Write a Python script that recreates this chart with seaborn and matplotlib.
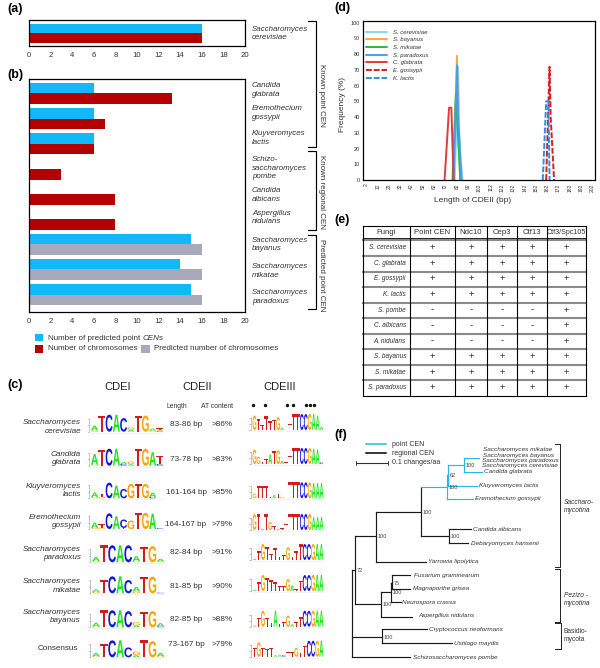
import numpy as np
import pandas as pd
import matplotlib
matplotlib.use("Agg")
import matplotlib.pyplot as plt
import seaborn as sns
from matplotlib.patches import PathPatch, Rectangle
from matplotlib.textpath import TextPath
from matplotlib.font_manager import FontProperties
from matplotlib.transforms import Affine2D

# ---------- data: panels (a) and (b) ----------
species_a = ["Saccharomyces\ncerevisiae"]
predicted_a = [16]
chromosomes_a = [16]

species_b = ["Candida\nglabrata", "Eremothecium\ngossypii", "Kluyveromyces\nlactis",
             "Schizo-\nsaccharomyces\npombe", "Candida\nalbicans", "Aspergillus\nnidulans",
             "Saccharomyces\nbayanus", "Saccharomyces\nmikatae", "Saccharomyces\nparadoxus"]
predicted_cen = [6, 6, 6, 0, 0, 0, 15, 14, 15]
chromosomes = [13.2, 7, 6, 3, 8, 8, 16, 16, 16]
second_is_predicted = [0, 0, 0, 0, 0, 0, 1, 1, 1]
bar_ticks = list(range(0, 21, 2))

# ---------- data: panel (d) ----------
d_series = {
    "S. cerevisiae": ([80, 83, 84, 85, 87], [0, 72, 30, 15, 0]),
    "S. bayanus": ([79, 82, 83, 85], [0, 79, 30, 0]),
    "S. mikatae": ([78, 81, 82, 85], [0, 55, 40, 0]),
    "S. paradoxus": ([79, 82, 83, 86], [0, 73, 40, 0]),
    "C. glabrata": ([71, 75, 77, 79], [0, 46, 46, 0]),
    "E. gossypii": ([161, 164, 165, 168], [0, 72, 40, 0]),
    "K. lactis": ([158, 161, 163, 164], [0, 50, 50, 0]),
}
d_colors = ["#86D8F2", "#F7A93B", "#2DB83D", "#4C9CEE", "#E23B3B", "#E01B1B", "#2E8FEA"]
d_dashed = [False, False, False, False, False, True, True]
d_xticks = list(range(2, 203, 10))
d_yticks = list(range(0, 101, 10))

# ---------- data: panel (c) ----------
c_species = ["Saccharomyces\ncerevisiae", "Candida\nglabrata", "Kluyveromyces\nlactis",
             "Eremothecium\ngossypii", "Saccharomyces\nparadoxus", "Saccharomyces\nmikatae",
             "Saccharomyces\nbayanus", "Consensus"]
c_length = ["83-86 bp", "73-78 bp", "161-164 bp", "164-167 bp", "82-84 bp", "81-85 bp", "82-85 bp", "73-167 bp"]
c_at = [">86%", ">83%", ">85%", ">79%", ">91%", ">90%", ">88%", ">79%"]

cdei_letters = [
    ["GA", "T", "C", "A", "C", "AG", "T", "G", "GA", "CAT"],
    ["GA", "T", "C", "A", "CA", "AG", "T", "G", "A", "CT"],
    ["GA", "GT", "C", "A", "C", "G", "T", "G", "CA", ""],
    ["GA", "GT", "C", "A", "TC", "G", "T", "G", "A", "C"],
    ["GA", "T", "C", "A", "C", "GA", "T", "G", "GA"],
    ["GA", "T", "C", "A", "C", "GA", "T", "G", "C"],
    ["GA", "T", "C", "A", "C", "AG", "T", "G", "CA"],
    ["GA", "T", "C", "A", "C", "AG", "T", "G", "GA"],
]
cdei_heights = [
    [[.08, .28], [.95], [1], [1], [.8], [.12, .15], [.95], [.95], [.06, .12], [.04, .06, .1]],
    [[.06, .62], [.95], [1], [1], [.1, .12], [.1, .15], [1], [1], [.8], [.1, .5]],
    [[.06, .28], [.08, .2], [.92], [.75], [.55], [.85], [.85], [.85], [.08, .25], []],
    [[.06, .32], [.08, .2], [.92], [.75], [.06, .5], [.5], [.95], [.95], [.9], [.05]],
    [[.06, .25], [1], [1], [1], [1], [.06, .3], [.9], [.95], [.05, .15]],
    [[.08, .15], [.8], [1], [1], [.78], [.12, .25], [.98], [.98], [.04]],
    [[.04, .22], [1], [1], [1], [.95], [.1, .2], [.92], [.95], [.06, .18]],
    [[.05, .2], [.8], [1], [1], [.58], [.12, .22], [1], [.95], [.05, .2]],
]

cdeiii_letters = [
    ["G", "T", "T", "T", "T", "T", "G", "A", "T", "T", "T", "T", "C", "C", "G", "A", "A", "A"],
    ["G", "G", "T", "T", "A", "T", "G", "A", "T", "T", "T", "T", "C", "C", "G", "A", "A", "C"],
    ["G", "T", "T", "T", "T", "A", "T", "G", "T", "T", "T", "T", "C", "C", "G", "A", "A", "A"],
    ["G", "T", "A", "T", "G", "T", "A", "T", "T", "T", "T", "T", "C", "C", "G", "A", "A", "A"],
    ["A", "T", "G", "T", "T", "T", "T", "T", "G", "T", "T", "T", "C", "C", "G", "A", "A"],
    ["A", "T", "G", "T", "T", "T", "T", "T", "G", "A", "T", "T", "C", "C", "G", "A", "A"],
    ["A", "T", "G", "T", "T", "A", "T", "T", "G", "A", "T", "T", "C", "C", "G", "A", "A"],
    ["T", "G", "T", "T", "T", "A", "A", "C", "T", "T", "G", "T", "T", "C", "C", "G", "A"],
]
cdeiii_heights = [
    [.9, .7, .3, .85, .55, .65, .8, .15, .2, .4, 1, 1, 1, 1, 1, 1, .9, .2],
    [.9, .45, .12, .3, .6, .8, .85, .2, .1, .5, 1, 1, 1, 1, 1, .95, .9, .1],
    [.3, .75, .75, .75, .1, .2, .3, .08, .08, 1, 1, 1, 1, 1, 1, .95, .95, .95],
    [1, 1, .08, 1, .5, .25, .08, .1, .35, 1, 1, 1, 1, 1, 1, .8, .8, .8],
    [.08, .55, 1, .8, .35, .75, .2, .3, .8, .2, .55, 1, 1, 1, 1, 1, 1],
    [.08, .55, 1, .8, .7, .55, .3, .3, .75, .35, .1, .65, 1, 1, 1, 1, 1],
    [.08, .55, 1, .55, .25, 1, .2, .3, .7, .15, .3, .6, 1, 1, 1, 1, 1],
    [.55, .9, .55, .5, .55, .1, .12, .1, .3, .3, .55, .25, .7, 1, 1, 1, 1],
]
logo_colors = {"A": "#19E619", "C": "#1515E0", "G": "#F7A600", "T": "#D41C1C"}

# ---------- data: panel (e) ----------
e_header = ["Fungi", "Point CEN", "Ndc10", "Cep3", "Ctf13", "Ctf3/Spc105"]
e_fungi = ["S. cerevisiae", "C. glabrata", "E. gossypii", "K. lactis", "S. pombe",
           "C. albicans", "A. nidulans", "S. bayanus", "S. mikatae", "S. paradoxus"]
e_point_cen = ["+", "+", "+", "+", "-", "-", "-", "+", "+", "+"]
e_ndc10 = ["+", "+", "+", "+", "-", "-", "-", "+", "+", "+"]
e_cep3 = ["+", "+", "+", "+", "-", "-", "-", "+", "+", "+"]
e_ctf13 = ["+", "+", "+", "+", "-", "-", "-", "+", "+", "+"]
e_ctf3 = ["+"] * 10

# ---------- data: panel (f), nested (branch length in changes/aa, support, row, children) ----------
tree = (0, "", None, [
    (.010, "72", 510, [
        (.065, "100", 408, [
            (.142, "100", 335, [
                (.080, "100", 260, [
                    (.004, "62", 224, [
                        (.049, "100", 195, [
                            (.049, "", 175, []),
                            (.056, "", 215, []),
                        ]),
                        (.090, "", 257, []),
                    ]),
                    (.081, "", 297, []),
                ]),
                (.086, "100", 408, [
                    (.069, "", 388, []),
                    (.062, "", 430, []),
                ]),
            ]),
            (.157, "", 485, []),
        ]),
        (.081, "100", 612, [
            (.031, "100", 575, [
                (.005, "75", 548, [
                    (.056, "", 525, []),
                    (.056, "", 566, []),
                ]),
                (.031, "", 607, []),
            ]),
            (.099, "", 650, []),
        ]),
    ]),
    (.094, "100", 710, [
        (.141, "", 688, []),
        (.219, "", 730, []),
    ]),
    (.182, "", 772, []),
])
tree_tips = ["Saccharomyces mikatae", "Saccharomyces bayanus", "Saccharomyces paradoxus",
             "Saccharomyces cerevisiae", "Candida glabrata", "Kluyveromyces lactis",
             "Eremothecium gossypii", "Candida albicans", "Debaryomyces hansenii",
             "Yarrowia lipolytica", "Fusarium graminearum", "Magnaporthe grisea",
             "Neurospora crassa", "Aspergillus nidulans", "Cryptococcus neoformans",
             "Ustilago maydis", "Schizosaccharomyces pombe"]
tree_tip_rows = [148, 166, 181, 198, 215, 258, 296, 389, 431, 484, 527, 566, 607, 648, 687, 730, 772]
tree_tip_x = [490, 488, 486, 486, 492, 477, 465, 460, 452, 323, 282, 280, 246, 295, 327, 402, 280]

# ---------- figure ----------
sns.set_theme(style="white")
plt.rcParams["font.family"] = ["Liberation Sans", "DejaVu Sans"]
TXT = "#333333"
BLUE, RED, GREY = "#12B8F7", "#B40000", "#A9A9BC"

fig = plt.figure(figsize=(6.0, 6.68), dpi=100)
W, H = 600.0, 668.0


def add_ax(x0, y0, x1, y1):
    return fig.add_axes([x0 / W, 1 - y1 / H, (x1 - x0) / W, (y1 - y0) / H])


def bars(ax, names, first, second, first_col, second_cols, ylim):
    df = pd.DataFrame({"species": names * 2,
                       "value": list(first) + list(second),
                       "slot": ["a"] * len(names) + ["b"] * len(names)})
    sns.barplot(data=df, y="species", x="value", hue="slot", orient="h", width=0.85,
                legend=False, ax=ax, saturation=1, gap=0, palette=["#000000", "#000000"])
    cols = [first_col] * len(names) + list(second_cols)
    for p, c in zip(ax.patches, cols):
        p.set_facecolor(c)
        p.set_edgecolor("none")
    ax.set_xlim(0, 20)
    ax.set_ylim(*ylim)
    ax.set_xticks(bar_ticks)
    ax.set_yticks([])
    ax.set_xlabel("")
    ax.set_ylabel("")
    ax.tick_params(axis="x", length=0, labelsize=5.6, labelcolor=TXT, pad=4)
    for s in ax.spines.values():
        s.set_color("black")
        s.set_linewidth(0.9)
        s.set_visible(True)


ax_a = add_ax(29, 20, 245, 46)
bars(ax_a, species_a, predicted_a, chromosomes_a, BLUE, [RED], (0.532, -0.574))
ax_b = add_ax(29, 79, 245, 312)
bars(ax_b, species_b, predicted_cen, chromosomes, BLUE,
     [GREY if g else RED for g in second_is_predicted], (8.696, -0.577))

# panel (d)
ax_d = add_ax(363.3, 20.7, 594.7, 180)
rows = []
for name, (xs, ys) in d_series.items():
    rows += [{"length": x, "freq": y, "species": name} for x, y in zip(xs, ys)]
df_d = pd.DataFrame(rows)
sns.lineplot(data=df_d, x="length", y="freq", hue="species", hue_order=list(d_series),
             palette=d_colors, style="species", style_order=list(d_series),
             dashes={n: ((3, 1) if dd else "") for n, dd in zip(d_series, d_dashed)},
             linewidth=1.4, estimator=None, sort=False, ax=ax_d)
ax_d.set_xlim(-1, 204)
ax_d.set_ylim(0, 101.3)
ax_d.set_xticks(d_xticks)
ax_d.set_yticks(d_yticks)
ax_d.tick_params(axis="x", length=0, labelsize=3.6, labelcolor=TXT, rotation=90, pad=2.5)
ax_d.tick_params(axis="y", length=0, labelsize=4, labelcolor=TXT, pad=2.5)
ax_d.set_xlabel("")
ax_d.set_ylabel("")
for s in ax_d.spines.values():
    s.set_color("black")
    s.set_linewidth(0.9)
    s.set_visible(True)
leg = ax_d.legend(loc="upper left", bbox_to_anchor=(0.012, 0.945), frameon=False,
                  fontsize=4.3, labelspacing=0.42, handlelength=3.5, handletextpad=1.0,
                  borderpad=0, borderaxespad=0, prop={"style": "italic", "size": 4.3})
for t in leg.get_texts():
    t.set_color(TXT)

# overlay in picture pixels for labels, logos, table and tree
ov = fig.add_axes([0, 0, 1, 1], zorder=5)
ov.set_xlim(0, W)
ov.set_ylim(H, 0)
ov.axis("off")
ov.patch.set_alpha(0)


def T(x, y, s, size=5.8, ha="left", va="center", color=TXT, **kw):
    return ov.text(x, y, s, fontsize=size, ha=ha, va=va, color=color, **kw)


def L(xs, ys, color="black", lw=0.75, **kw):
    ov.plot(xs, ys, color=color, lw=lw, solid_capstyle="projecting", **kw)


for s, x, y in [("(a)", 7, 9), ("(b)", 7, 75), ("(c)", 7, 385), ("(d)", 334, 8), ("(e)", 334.5, 220), ("(f)", 334, 435)]:
    T(x, y, s, size=9, weight="bold", color="black")

# species labels (a), (b)
T(252, 33.5, species_a[0], size=5.7, style="italic", linespacing=1.25)
b_label_y = [90, 113, 138, 168, 195, 217.5, 244.5, 271, 297]
for s, y in zip(species_b, b_label_y):
    T(252, y, s, size=5.7, style="italic", linespacing=1.25)

# legend of (b)
rich_y = 338
for x, y, c in [(34.5, 333.5, BLUE), (34.5, 345, RED), (141, 345, GREY)]:
    ov.add_patch(Rectangle((x, y), 8.5, 7.5, fc=c, ec="none"))
t1 = T(47.7, rich_y, "Number of predicted point ", size=5.8)
fig.canvas.draw()
x_next = ov.transData.inverted().transform(t1.get_window_extent().corners()[2])[0]
t2 = T(x_next, rich_y, "CEN", size=5.8, style="italic")
x_next = ov.transData.inverted().transform(t2.get_window_extent().corners()[2])[0]
T(x_next, rich_y, "s", size=5.8)
T(47.7, 348.5, "Number of chromosomes", size=5.8)
T(153.7, 348.5, "Predicted number of chromosomes", size=5.8)

# brackets beside (b)
for top, bottom in [(21, 147), (151, 230), (235, 309)]:
    L([308, 315.5, 315.5, 308], [top, top, bottom, bottom], lw=0.85)
for y, s in [(95, "Known point CEN"), (192, "Known regional CEN"), (275, "Predicted point CEN")]:
    T(322, y, s, size=5.8, rotation=-90, ha="center", color=TXT)

# axis labels of (d)
T(343, 105, "Frequency (%)", size=6, rotation=90, ha="center")
T(473, 200, "Length of CDEII (bp)", size=6, ha="center")

# panel (c) texts
for x, s in [(118, "CDEI"), (197, "CDEII"), (280, "CDEIII")]:
    T(x, 387, s, size=8, ha="center", color="#222222")
T(177, 406.5, "Length", size=4.9, ha="center")
T(217, 406.5, "AT content", size=4.9, ha="center")
ov.scatter([253.3, 265, 287.3, 292.7, 306, 310, 314.3], [405] * 7, s=6, color="#111111", lw=0)

c_label_y = [427, 458.5, 490.5, 521.5, 553.5, 586, 616.5, 649]
c_value_y = [425, 459.5, 492, 524, 553, 586, 619.5, 645]
for s, y in zip(c_species, c_label_y):
    italic = "normal" if s == "Consensus" else "italic"
    T(81 if s != "Consensus" else 78, y, s, size=5.9, ha="right", style=italic, linespacing=1.25, multialignment="right")
for a, b, y in zip(c_length, c_at, c_value_y):
    T(186, y, a, size=5.9, ha="center")
    T(222, y, b, size=5.9, ha="center")

fp = FontProperties(family="Liberation Sans", weight="bold")
glyphs = {k: TextPath((0, 0), k, size=1, prop=fp) for k in "ACGT"}


def glyph(letter, x, base, w, h):
    tp = glyphs[letter]
    bb = tp.get_extents()
    tr = (Affine2D().translate(-bb.x0, -bb.y0).scale(w * 0.96 / bb.width, -h / bb.height)
          .translate(x + w * 0.02, base))
    ov.add_patch(PathPatch(tr.transform_path(tp), fc=logo_colors[letter], ec="none", lw=0))


def logo_axis(x, base, height):
    L([x, x], [base - height, base], color="#999999", lw=0.4)
    L([x - 1.4, x], [base - height, base - height], color="#999999", lw=0.4)
    L([x - 1.4, x], [base - height / 2, base - height / 2], color="#999999", lw=0.4)
    L([x - 1.4, x], [base, base], color="#999999", lw=0.4)


cdei_base = [431.7, 465.7, 498.3, 529, 562.3, 593.3, 627.3, 657.3]
for seq, hts, base in zip(cdei_letters, cdei_heights, cdei_base):
    n = len(seq)
    x0 = 91 if n == 10 else 92
    w = 72.5 / n
    logo_axis(x0 - 2, base, 13)
    L([x0, x0 + w * n], [base + 1, base + 1], color="#CCCCCC", lw=0.4, ls=":")
    for i, (pile, hh) in enumerate(zip(seq, hts)):
        y = base
        for ch, h in zip(pile, hh):
            glyph(ch, x0 + i * w, y, w, h * 17)
            y -= h * 17

cdeiii_base = [430, 464, 498.3, 530, 560, 591, 626.7, 656.7]
for seq, hts, base in zip(cdeiii_letters, cdeiii_heights, cdeiii_base):
    n = len(seq)
    x0 = 252.5
    w = 71.0 / n
    logo_axis(x0 - 2, base, 12)
    L([x0, x0 + w * n], [base + 1, base + 1], color="#CCCCCC", lw=0.4, ls=":")
    for i, (ch, h) in enumerate(zip(seq, hts)):
        glyph(ch, x0 + i * w, base, w, h * 16)

# panel (e) table
col_edges = [363, 410, 455, 487, 517, 547, 586]
row_edges = [225.7, 240] + [240.5 + 15.52 * (i + 1) for i in range(10)]
row_edges[-1] = 395.7
columns = [e_fungi, e_point_cen, e_ndc10, e_cep3, e_ctf13, e_ctf3]
for y in row_edges[1:-1]:
    L([363, 586], [y, y], color="#8A8A8A", lw=1.5, zorder=1)
for x in col_edges:
    L([x, x], [225.7, 395.7], lw=0.8, zorder=2)
L([363, 586], [225.7, 225.7], lw=0.8, zorder=2)
L([363, 586], [395.7, 395.7], lw=0.8, zorder=2)
L([363, 586], [238.3, 238.3], lw=0.6, zorder=2)
for j, head in enumerate(e_header):
    T((col_edges[j] + col_edges[j + 1]) / 2, 232, head, size=5.6 if j < 5 else 5.1, ha="center")
for i in range(10):
    y = (row_edges[i + 1] + row_edges[i + 2]) / 2 - 0.3
    T(406, y, e_fungi[i], size=4.7, ha="right", style="italic")
    for j in range(1, 6):
        T((col_edges[j] + col_edges[j + 1]) / 2, y, columns[j][i], size=6.8, ha="center", color="#222222")


# panel (f) tree
def zx(v):
    return 320 + v / 3.0


def zy(v):
    return 400 + v / 3.0


PX_PER_UNIT = 320.0
tree_blue = "#28B6EF"
blue_clade = tree[3][0][3][0][3][0][3][0]


def draw(node, x_parent, blue=False):
    length, support, row, kids = node
    x = x_parent + length * PX_PER_UNIT
    is_blue = blue or node is blue_clade
    col = tree_blue if is_blue else "#1A1A1A"
    if row is not None:
        y = zy(row)
        L([x_parent, x], [y, y], color=col, lw=0.85)
    if kids:
        ys = [zy(k[2]) for k in kids]
        L([x, x], [min(ys), max(ys)], color=col, lw=0.85)
        for k in kids:
            draw(k, x, is_blue)
    if support:
        T(x + 1.6, y + 0.8, support, size=4, color="#444444")


draw(tree, zx(95))
for s, x, y in zip(tree_tips, tree_tip_x, tree_tip_rows):
    T(zx(x), zy(y), s, size=4.6, style="italic")

L([zx(138), zx(198)], [zy(133), zy(133)], color=tree_blue, lw=1.1)
L([zx(138), zx(198)], [zy(160), zy(160)], color="black", lw=1.1)
T(zx(215), zy(133), "point CEN", size=5)
T(zx(215), zy(160), "regional CEN", size=5)
T(zx(215), zy(188), "0.1 changes/aa", size=5)
L([zx(107), zx(203)], [zy(190), zy(190)], color="#333333", lw=0.8)
for xb in (107, 203):
    L([zx(xb), zx(xb)], [zy(184), zy(196)], color="#333333", lw=0.6)
for top, bottom, xv, s, size, sty, ty in [
        (132, 502, 720, "Saccharo-\nmycotina", 4.8, "italic", 319),
        (507, 665, 720, "Pezizo -\nmycotina", 4.8, "italic", 598),
        (670, 747, 722, "Basidio-\nmycota", 4.8, "normal", 706)]:
    L([zx(706), zx(xv), zx(xv), zx(706)], [zy(top), zy(top), zy(bottom), zy(bottom)], color="#222222", lw=0.7)
    T(zx(732), zy(ty), s, size=size, style=sty, linespacing=1.3)

fig.savefig("out.png", dpi=100)
